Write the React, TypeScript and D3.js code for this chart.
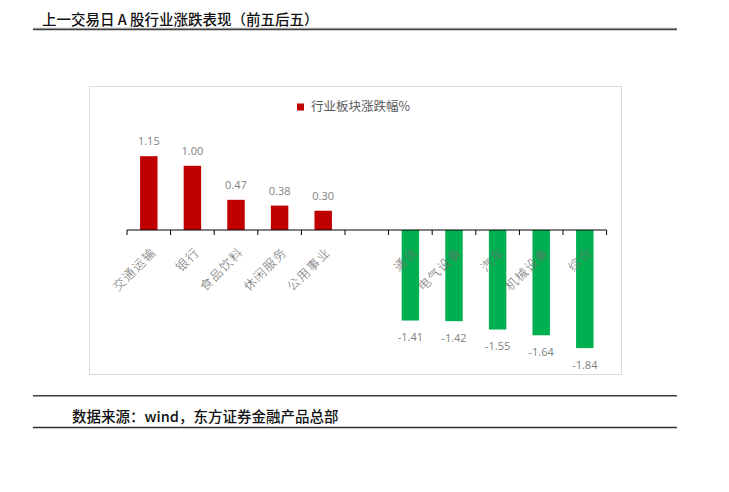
import React from "react";
import * as d3 from "d3";

const title = "上一交易日 A 股行业涨跌表现（前五后五）";
const footer = "数据来源：wind，东方证券金融产品总部";
const legendLabel = "行业板块涨跌幅%";
const categories = ["交通运输", "银行", "食品饮料", "休闲服务", "公用事业", "", "通信", "电气设备", "汽车", "机械设备", "综合"];
const values: (number | null)[] = [1.15, 1.0, 0.47, 0.38, 0.3, null, -1.41, -1.42, -1.55, -1.64, -1.84];

const RED = "#C00000";
const GREEN = "#00B050";
const CJK = "'Noto Sans CJK SC', 'Noto Sans', sans-serif";

export default function App() {
  const W = 729, H = 492;
  const idx = categories.map((_, i) => String(i));
  const x = d3.scaleBand<string>().domain(idx).range([127, 606.6]).paddingInner(0.6).paddingOuter(0.3);
  const y = d3.scaleLinear().domain([-2, 1.5]).range([358.4, 133.7]);
  const step = x.step();
  const y0 = y(0);
  const tickXs = d3.range(categories.length + 1).map((i) => 127 + i * step);

  return (
    <div style={{ position: "absolute", left: 0, top: 0 }}>
      <svg width={W} height={H} style={{ display: "block" }}>
        <rect width={W} height={H} fill="#fff" />
        {/* header */}
        <text x={42} y={25} fontFamily={CJK} fontSize={14.5} fill="#111" fontWeight={500}>{title}</text>
        <line x1={33} x2={677} y1={28.3} y2={28.3} stroke="#a0a0a0" strokeWidth={1} />
        <line x1={33} x2={677} y1={29.5} y2={29.5} stroke="#404040" strokeWidth={1.4} />
        {/* chart box */}
        <rect x={89.5} y={86.5} width={532} height={288} fill="#fff" stroke="#d9d9d9" strokeWidth={1} />
        {/* legend */}
        <rect x={297} y={103.5} width={7} height={7} fill={RED} />
        <text x={311} y={107} dy="0.35em" fontFamily={CJK} fontSize={12.5} fill="#595959">{legendLabel}</text>
        {/* bars */}
        {values.map((v, i) => {
          if (v === null) return null;
          const bx = x(String(i))!;
          const bw = x.bandwidth();
          const top = v >= 0 ? y(v) : y0;
          const h = Math.abs(y(v) - y0);
          return <rect key={i} x={bx} y={top} width={bw} height={h} fill={v >= 0 ? RED : GREEN} />;
        })}
        {/* axis */}
        <line x1={tickXs[0]} x2={tickXs[tickXs.length - 1]} y1={y0} y2={y0} stroke="#000" strokeWidth={1} />
        {tickXs.map((tx, i) => (
          <line key={i} x1={tx} x2={tx} y1={y0} y2={y0 + 5} stroke="#000" strokeWidth={1} />
        ))}
        {/* category labels */}
        {categories.map((c, i) => {
          if (!c) return null;
          const cx = x(String(i))! + x.bandwidth() / 2;
          return (
            <text key={i} transform={`translate(${cx + 5},${y0 + 20}) rotate(-45)`} textAnchor="end" dy="0.35em"
              fontFamily={CJK} fontSize={12.5} letterSpacing={1.2} fontWeight={300} fill="#6e6e6e">{c}</text>
          );
        })}
        {/* value labels */}
        {values.map((v, i) => {
          if (v === null) return null;
          const cx = x(String(i))! + x.bandwidth() / 2;
          const ly = v >= 0 ? y(v) - 11 : y(v) + 20.5;
          return (
            <text key={i} x={cx} y={ly} textAnchor="middle" fontFamily="'Open Sans', 'Liberation Sans', sans-serif"
              fontSize={11} fill="#7f7f7f">{v.toFixed(2)}</text>
          );
        })}
        {/* footer */}
        <line x1={33} x2={677} y1={395.7} y2={395.7} stroke="#404040" strokeWidth={1.6} />
        <text x={72} y={422} fontFamily={CJK} fontSize={14.5} fill="#111" fontWeight={500}>{footer}</text>
        <line x1={33} x2={677} y1={427.5} y2={427.5} stroke="#303030" strokeWidth={1.3} />
      </svg>
    </div>
  );
}
